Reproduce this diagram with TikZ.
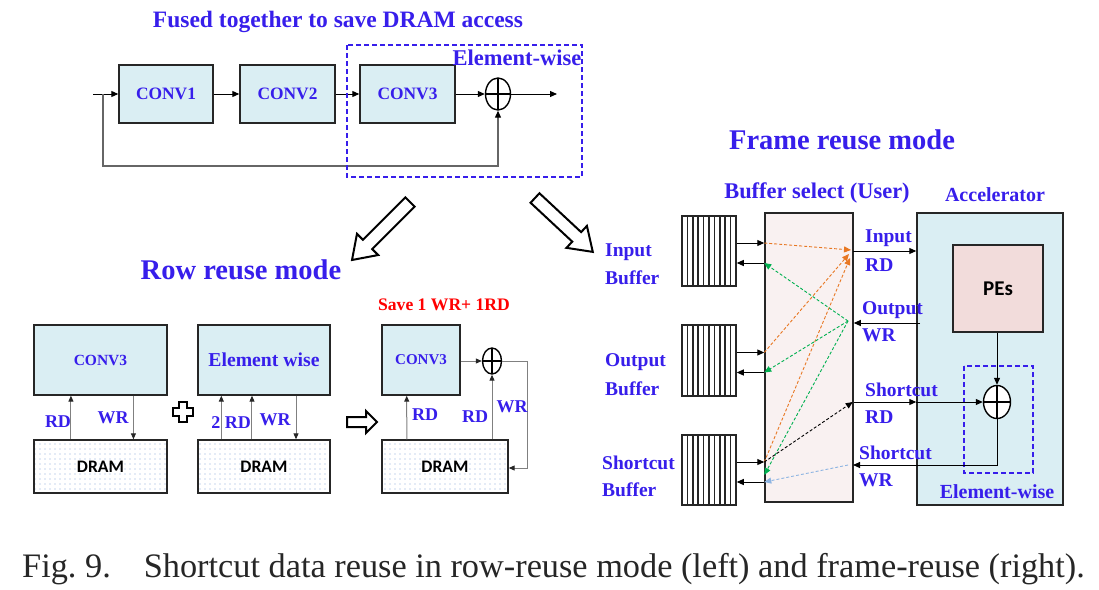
\documentclass[tikz,border=0pt]{standalone}
\usepackage{fontspec}
\setmainfont{Liberation Serif}
\newfontfamily\calibfont{Carlito}
\usetikzlibrary{arrows.meta,shapes.geometric,patterns.meta,calc}
\definecolor{tblue}{RGB}{55,30,235}
\definecolor{boxblue}{RGB}{218,238,243}
\definecolor{bspink}{RGB}{249,241,241}
\definecolor{pepink}{RGB}{242,220,219}
\definecolor{dorange}{RGB}{232,119,34}
\definecolor{dgreen}{RGB}{0,176,80}
\definecolor{dlblue}{RGB}{141,180,226}
\definecolor{dotblue}{RGB}{140,170,220}
\definecolor{tred}{RGB}{255,0,0}
\newcommand\myfs[1]{\fontsize{#1pt}{#1pt}\selectfont}
\begin{document}
\begin{tikzpicture}[x=1pt,y=-1pt,
  lbl/.style={text=tblue,inner sep=0pt},
  blk/.style={draw=black!85,line width=1.4pt,fill=boxblue,inner sep=0pt,text=tblue},
  dram/.style={draw=black!85,line width=1.4pt,inner sep=0pt,pattern={Dots[distance=5pt,radius=0.7pt]},pattern color=dotblue,font=\calibfont\bfseries\myfs{17.6}},
  tip/.style={line width=1pt,-{Triangle[length=7pt,width=6pt]}},
  gtip/.style={draw=black!50,line width=1pt,-{Triangle[length=6pt,width=5pt,color=black!85]}},
  oplus/.style={ellipse,draw,line width=1.4pt,inner sep=0pt,fill=white,
    path picture={\draw[line width=1.2pt] (path picture bounding box.north) -- (path picture bounding box.south)
      (path picture bounding box.west) -- (path picture bounding box.east);}},
  hollow/.style={draw=black,line width=2pt,fill=white,line join=miter},
  buf/.style={draw=black!85,line width=1.5pt,fill=white,inner sep=0pt,minimum width=54,
    path picture={\foreach \k in {1,...,9}{\draw[line width=1.6pt] ([xshift=\k*5.4pt]path picture bounding box.south west) -- ([xshift=\k*5.4pt]path picture bounding box.north west);}}},
  dsh/.style={line width=0.9pt,dash pattern=on 3pt off 2pt},
  dtip/.style={-{Triangle[length=7pt,width=6pt]}}
]
\useasboundingbox (0,0) rectangle (1099,589);
\fill[white] (0,0) rectangle (1099,589);

% ---------------- top chain ----------------
\node[lbl,font=\bfseries\myfs{23.5}] (title) at (338,22) {Fused together to save DRAM access};
\node[blk,minimum width=94,minimum height=58,font=\bfseries\myfs{17.4}] (conv1) at (166,94) {CONV1};
\node[blk,minimum width=95,minimum height=58,font=\bfseries\myfs{17.4}] (conv2) at (287.5,94) {CONV2};
\node[blk,minimum width=95,minimum height=58,font=\bfseries\myfs{17.4}] (conv3) at (407.5,94) {CONV3};
\node[oplus,minimum width=25,minimum height=32] (add1) at (498,94) {};
\coordinate (in1) at (93,94);
\coordinate (fb) at (103,94);
\coordinate (fbc) at (103,166);
\coordinate (out1) at (557,94);
\draw[tip] (in1) -- (conv1.west);
\draw[tip] (conv1) -- (conv2);
\draw[tip] (conv2) -- (conv3);
\draw[tip] (conv3) -- (add1);
\draw[tip] (add1) -- (out1);
\draw[line width=1.2pt,draw=black!60,-{Triangle[length=7pt,width=6pt,color=black]}] (fb) -- (fbc) -| (add1.south);
\draw[tblue,line width=1.5pt,dash pattern=on 5pt off 3pt] (347,45) rectangle (582,177);
\node[lbl,font=\bfseries\myfs{22.5}] (ewtop) at (517,58) {Element-wise};

% ---------------- hollow arrows ----------------
\begin{scope}[shift={(410,202)},rotate=225]
  \draw[hollow] (0,-6.5) -- (60,-6.5) -- (60,-15) -- (82,0) -- (60,15) -- (60,6.5) -- (0,6.5) -- cycle;
\end{scope}
\begin{scope}[shift={(535,198)},rotate=-43]
  \draw[hollow] (0,-6.5) -- (57,-6.5) -- (57,-15) -- (79,0) -- (57,15) -- (57,6.5) -- (0,6.5) -- cycle;
\end{scope}

\node[lbl,font=\bfseries\myfs{28.5}] (rowmode) at (241,270) {Row reuse mode};
\node[lbl,font=\bfseries\myfs{28.5}] (framemode) at (842,140) {Frame reuse mode};

% ---------------- row reuse ----------------
\node[blk,minimum width=133,minimum height=70,font=\bfseries\myfs{15.5}] (c3a) at (100.5,360) {CONV3};
\node[dram,minimum width=133,minimum height=53] (dram1) at (100.5,466.5) {DRAM};
\draw[gtip] ($(dram1.north west)!.28!(dram1.north east)$) -- ($(c3a.south west)!.28!(c3a.south east)$);
\draw[gtip] ($(c3a.south west)!.745!(c3a.south east)$) -- ($(dram1.north west)!.745!(dram1.north east)$);
\node[lbl,font=\bfseries\myfs{18}] (rd1) at (58,422) {RD};
\node[lbl,font=\bfseries\myfs{18}] (wr1) at (113,418) {WR};

\draw[hollow,line width=2.5pt] (179,402) -- (187,402) -- (187,408) -- (193,408) -- (193,416) -- (187,416) -- (187,422) -- (179,422) -- (179,416) -- (173,416) -- (173,408) -- (179,408) -- cycle;

\node[blk,minimum width=132,minimum height=70,font=\bfseries\myfs{19.7}] (ew) at (264,360) {Element wise};
\node[dram,minimum width=132,minimum height=53] (dram2) at (264,466.5) {DRAM};
\draw[gtip] ($(dram2.north west)!.18!(dram2.north east)$) -- ($(ew.south west)!.18!(ew.south east)$);
\draw[gtip] ($(dram2.north west)!.41!(dram2.north east)$) -- ($(ew.south west)!.41!(ew.south east)$);
\draw[gtip] ($(ew.south west)!.74!(ew.south east)$) -- ($(dram2.north west)!.74!(dram2.north east)$);
\node[lbl,font=\bfseries\myfs{18}] (rd2) at (231,423) {2 RD};
\node[lbl,font=\bfseries\myfs{18}] (wr2) at (275,420) {WR};

\draw[hollow] (347,417) -- (366,417) -- (366,411) -- (377,422) -- (366,433) -- (366,427) -- (347,427) -- cycle;

\node[lbl,text=tred,font=\bfseries\myfs{17.6}] (save) at (444,305) {Save 1 WR+ 1RD};
\node[blk,minimum width=78,minimum height=70,font=\bfseries\myfs{15}] (c3b) at (421,360) {CONV3};
\node[dram,minimum width=126,minimum height=53] (dram3) at (445,466.5) {DRAM};
\node[oplus,minimum width=19,minimum height=26] (add2) at (492,361) {};
\coordinate (loopR) at (527,361);
\coordinate (loopD) at (527,468);
\draw[gtip] ($(dram3.north west)!.2!(dram3.north east)$) -- ($(c3b.south west)!.32!(c3b.south east)$);
\draw[gtip] (dram3.north -| add2.south) -- (add2.south);
\draw[gtip] (c3b.east |- add2.west) -- (add2.west);
\draw[gtip] (add2.east) -- (loopR) -- (loopD) -- (loopD -| dram3.east);
\node[lbl,font=\bfseries\myfs{18}] (rd3) at (425,415) {RD};
\node[lbl,font=\bfseries\myfs{18}] (rd4) at (475,417) {RD};
\node[lbl,font=\bfseries\myfs{18}] (wr3) at (512,407) {WR};

% ---------------- frame reuse ----------------
\node[lbl,font=\bfseries\myfs{22.4}] (bstitle) at (817,193) {Buffer select (User)};
\node[lbl,font=\bfseries\myfs{20}] (acctitle) at (995,195) {Accelerator};
\node[draw=black!85,line width=1.5pt,fill=bspink,minimum width=88,minimum height=289,inner sep=0pt] (bs) at (809,357.5) {};
\node[draw=black!85,line width=1.5pt,fill=boxblue,minimum width=146,minimum height=292,inner sep=0pt] (acc) at (990,359) {};
\node[draw=black!85,line width=1.5pt,fill=pepink,minimum width=90,minimum height=87,inner sep=0pt,font=\calibfont\bfseries\myfs{21}] (pes) at (998,288.5) {PEs};
\draw[tblue,line width=1.5pt,dash pattern=on 5pt off 3pt] (964,366) rectangle (1033,473);
\node[oplus,minimum width=27,minimum height=33] (add3) at (997,402) {};
\node[lbl,font=\bfseries\myfs{20}] (ewlab) at (997,492) {Element-wise};

\node[buf,minimum height=70] (ib) at (709,251) {};
\node[buf,minimum height=71] (ob) at (709,360.5) {};
\node[buf,minimum height=70] (sb) at (709,470) {};

\foreach \b/\n in {ib/i,ob/o,sb/s}{
  \coordinate (\n1) at ([yshift=8pt]\b.east);
  \coordinate (\n2) at ([yshift=-12pt]\b.east);
}
\draw[tip] (i1) -- (i1 -| bs.west);
\draw[tip] (i2 -| bs.west) -- (i2);
\draw[tip] (o1) -- (o1 -| bs.west);
\draw[tip] (o2 -| bs.west) -- (o2);
\draw[tip] (s1) -- (s1 -| bs.west);
\draw[tip] (s2 -| bs.west) -- (s2);

\node[lbl,anchor=west,font=\bfseries\myfs{19.5}] (lb1) at (605,252) {Input};
\node[lbl,anchor=west,font=\bfseries\myfs{19.5}] (lb2) at (605,278) {Buffer};
\node[lbl,anchor=west,font=\bfseries\myfs{19.5}] (lb3) at (605,362) {Output};
\node[lbl,anchor=west,font=\bfseries\myfs{19.5}] (lb4) at (605,389) {Buffer};
\node[lbl,anchor=west,font=\bfseries\myfs{19.5}] (lb5) at (602,463) {Shortcut};
\node[lbl,anchor=west,font=\bfseries\myfs{19.5}] (lb6) at (602,490) {Buffer};

\coordinate (inRD) at (853,251);
\coordinate (outWR) at (920,323);
\coordinate (scRD) at (bs.east |- add3.west);
\coordinate (scWR) at (853,465);
\draw[tip] (inRD) -- (inRD -| acc.west);
\draw[tip] (outWR) -- (outWR -| bs.east);
\draw[tip] (scRD) -- (scRD -| acc.west);
\draw[tip] (scRD -| acc.west) -- (add3.west);
\draw[tip] (add3.south) |- (scWR);
\draw[tip] (pes.south -| add3.north) -- (add3.north);

\node[lbl,anchor=west,font=\bfseries\myfs{19.5}] (r1) at (865,238) {Input};
\node[lbl,anchor=west,font=\bfseries\myfs{19.5}] (r2) at (865,265) {RD};
\node[lbl,anchor=west,font=\bfseries\myfs{19.5}] (r3) at (862,310) {Output};
\node[lbl,anchor=west,font=\bfseries\myfs{19.5}] (r4) at (862,335) {WR};
\node[lbl,anchor=west,font=\bfseries\myfs{19.5}] (r5) at (865,390) {Shortcut};
\node[lbl,anchor=west,font=\bfseries\myfs{19.5}] (r6) at (865,417) {RD};
\node[lbl,anchor=west,font=\bfseries\myfs{19.5}] (r7) at (859,453) {Shortcut};
\node[lbl,anchor=west,font=\bfseries\myfs{19.5}] (r8) at (859,480) {WR};

% dashed routing inside buffer select
\coordinate (oT1) at (851,250);
\coordinate (oT2) at (849,254);
\coordinate (oT3) at (850,258);
\coordinate (gS) at (848,321);
\coordinate (lbS) at (848,465);
\draw[dsh,dorange,dtip] (i1 -| bs.west) -- (oT1);
\draw[dsh,dorange,dtip] (o1 -| bs.west) -- (oT2);
\draw[dsh,dorange,dtip] (s1 -| bs.west) -- (oT3);
\draw[dsh,dgreen,dtip] (gS) -- (i2 -| bs.west);
\draw[dsh,dgreen,dtip] (gS) -- (o2 -| bs.west);
\draw[dsh,dgreen,dtip] (gS) -- ([yshift=7pt]s2 -| bs.west);
\draw[dsh,black,dtip] (s1 -| bs.west) -- ([xshift=-1pt]scRD);
\draw[dsh,dlblue,dtip] (lbS) -- (s2 -| bs.west);

% ---------------- caption ----------------
\node[anchor=base west,inner sep=0pt,font=\myfs{34.3},text=black!85] (cap) at (22,577) {Fig.~9.\hskip 33pt Shortcut data reuse in row-reuse mode (left) and frame-reuse (right).};
\end{tikzpicture}
\end{document}
